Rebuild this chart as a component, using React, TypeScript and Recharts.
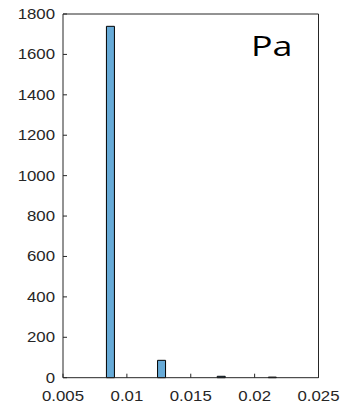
import React from "react";
import { BarChart, Bar, XAxis, YAxis } from "recharts";

// Histogram bins (left edge start, bin width) and counts
const binStart = 0.0084;
const binWidth = 0.000667;
const counts = [1739, 0, 0, 0, 0, 0, 86, 0, 0, 0, 0, 0, 0, 7, 0, 0, 0, 0, 0, 3];
const xTicks = [0.005, 0.01, 0.015, 0.02, 0.025];
const xTickLabels = ["0.005", "0.01", "0.015", "0.02", "0.025"];
const yTicks = [0, 200, 400, 600, 800, 1000, 1200, 1400, 1600, 1800];
const annotation = "Pa";

const data = counts.map((c, i) => ({ x: binStart + (i + 0.5) * binWidth, count: c }));

const axisColor = "#262626";
const FONT = "'Liberation Sans', Arial, sans-serif";
const SX = 1.2;

const XTick = (props: any) => {
  const { x, y, payload } = props;
  const idx = xTicks.findIndex((t) => Math.abs(t - payload.value) < 1e-9);
  const label = idx >= 0 ? xTickLabels[idx] : String(payload.value);
  return (
    <g transform={`translate(${x},${y})`}>
      <text x={0} y={0} dy="0.71em" textAnchor="middle" transform={`scale(${SX},1)`} fontFamily={FONT} fontSize={14} fill={axisColor}>
        {label}
      </text>
    </g>
  );
};

const YTick = (props: any) => {
  const { x, y, payload } = props;
  return (
    <g transform={`translate(${x},${y})`}>
      <text x={0} y={0} dy="0.355em" textAnchor="end" transform={`scale(${SX},1)`} fontFamily={FONT} fontSize={14} fill={axisColor}>
        {String(payload.value)}
      </text>
    </g>
  );
};

export default function App() {
  return (
    <div style={{ position: "absolute", left: 0, top: 0, width: 342, height: 409, background: "#fff" }}>
      <BarChart
        width={342}
        height={409}
        data={data}
        margin={{ top: 13, right: 22.5, bottom: 6.3, left: 8 }}
        barCategoryGap={0}
      >
        <XAxis
          xAxisId="bottom"
          dataKey="x"
          type="number"
          domain={[0.005, 0.025]}
          ticks={xTicks}
          allowDataOverflow
          height={25}
          tickSize={-4}
          tickMargin={17}
          tick={<XTick />}
          axisLine={{ stroke: axisColor }}
          tickLine={{ stroke: axisColor }}
          interval={0}
        />
        <XAxis
          xAxisId="top"
          orientation="top"
          dataKey="x"
          type="number"
          domain={[0.005, 0.025]}
          ticks={xTicks}
          allowDataOverflow
          height={1}
          tickSize={-4}
          tick={false}
          axisLine={{ stroke: axisColor }}
          tickLine={{ stroke: axisColor }}
          interval={0}
        />
        <YAxis
          yAxisId="left"
          domain={[0, 1800]}
          ticks={yTicks}
          width={55}
          tickSize={-4}
          tickMargin={12}
          tick={<YTick />}
          axisLine={{ stroke: axisColor }}
          tickLine={{ stroke: axisColor }}
          interval={0}
        />
        <YAxis
          yAxisId="right"
          orientation="right"
          domain={[0, 1800]}
          ticks={yTicks}
          width={1}
          tickSize={-4}
          tick={false}
          axisLine={{ stroke: axisColor }}
          tickLine={{ stroke: axisColor }}
          interval={0}
        />
        <Bar
          xAxisId="bottom"
          yAxisId="left"
          dataKey="count"
          fill="#66AAD7"
          stroke="#000"
          strokeWidth={1}
          barSize={8}
          isAnimationActive={false}
        />
      </BarChart>
      <svg width={342} height={409} style={{ position: "absolute", left: 0, top: 0, pointerEvents: "none" }}>
        <g transform="translate(251,56)">
          <text x={0} y={0} transform="scale(1.28,1)" fontFamily="'Open Sans', sans-serif" fontSize={28} fill="#000">
            {annotation}
          </text>
        </g>
      </svg>
    </div>
  );
}
